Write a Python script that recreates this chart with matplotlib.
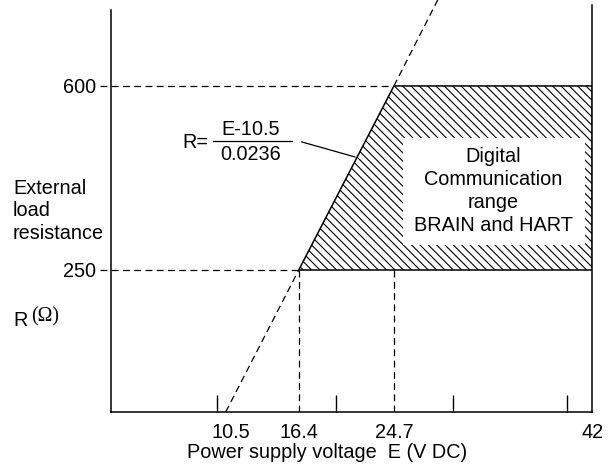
import matplotlib
matplotlib.use("Agg")
import matplotlib.pyplot as plt
from matplotlib.patches import Polygon, Rectangle

plt.rcParams['font.family'] = ['Liberation Sans', 'DejaVu Sans']
plt.rcParams['hatch.linewidth'] = 0.8

FS = 14.3

# values
e_zero = 10.5          # E where R = 0
k = 0.0236             # R = (E - e_zero) / k
e_min, e_max = 16.4, 24.7
e_top = 42
r_min, r_max = 250, 600
x_tick_vals = [10.5, 16.4, 24.7, 42]
x_tick_labels = ['10.5', '16.4', '24.7', '42']
minor_ticks = [9.24, 19.62, 29.87, 39.76]
y_tick_vals = [250, 600]
r_line_ends = [-20, 764]

fig = plt.figure(figsize=(6.13, 4.68), dpi=100)
ax = fig.add_axes([0.1806, 0.1197, 0.7856, 0.8697])
ax.set_xlim(0, 42)
ax.set_ylim(-20, 754)

ax.spines['top'].set_visible(False)
for s in ['left', 'right', 'bottom']:
    ax.spines[s].set_linewidth(1.1)
ax.spines['left'].set_bounds(-20, 744)

dash = dict(color='black', lw=0.9, linestyle=(0, (5.5, 3.5)))

# hatched communication range
poly = Polygon([(e_min, r_min), (e_max, r_max), (e_top, r_max), (e_top, r_min)],
               closed=True, facecolor='white', edgecolor='black', hatch='\\\\\\\\',
               lw=1.1, zorder=2)
ax.add_patch(poly)
ax.add_patch(Rectangle((25.5, 297.5), 41.35 - 25.5, 501 - 297.5,
                       facecolor='white', edgecolor='none', zorder=3))
ax.text(33.4, 400, 'Digital\nCommunication\nrange\nBRAIN and HART',
        ha='center', va='center', fontsize=FS, linespacing=1.27, zorder=4)

# guide lines
ax.plot([-0.9, e_max], [r_max, r_max], clip_on=False, zorder=1, **dash)
ax.plot([-0.9, e_min], [r_min, r_min], clip_on=False, zorder=1, **dash)
ax.plot([e_min, e_min], [-20, r_min], zorder=1, **dash)
ax.plot([e_max, e_max], [-20, r_max], zorder=1, **dash)

# load line R = (E - 10.5) / 0.0236, dashed outside the range
e_ends = [e_zero + r * k for r in r_line_ends]
ax.plot([e_ends[0], e_min], [r_line_ends[0], r_min], clip_on=False, zorder=1, **dash)
ax.plot([e_max, e_ends[1]], [r_max, r_line_ends[1]], clip_on=False, zorder=1, **dash)

# ticks
ax.set_xticks(x_tick_vals, x_tick_labels)
ax.set_xticks(minor_ticks, minor=True)
ax.tick_params(axis='x', which='major', length=0, pad=8, labelsize=FS)
ax.tick_params(axis='x', which='minor', direction='in', length=12, width=1.0)
ax.set_yticks(y_tick_vals, [str(v) for v in y_tick_vals])
ax.tick_params(axis='y', which='major', length=0, pad=10.8, labelsize=FS)
ax.tick_params(axis='y', which='minor', left=False)

# formula
ax.text(7.35, 493, 'R=', ha='center', va='center', fontsize=FS)
ax.text(12.23, 517, 'E-10.5', ha='center', va='center', fontsize=FS)
ax.text(12.23, 469, '0.0236', ha='center', va='center', fontsize=FS)
ax.plot([8.93, 15.8], [495, 495], color='black', lw=0.9)
ax.plot([16.67, 21.3], [493.5, 465], color='black', lw=0.9)

# axis titles
fig.text(13 / 613, 1 - 211 / 468, 'External\nload\nresistance', ha='left',
         va='center', fontsize=FS, linespacing=1.26)
fig.text(13 / 613, 1 - 321 / 468, 'R', ha='left', va='center', fontsize=FS)
fig.text(31 / 613, 1 - 317 / 468, '(Ω)', ha='left', va='center', fontsize=FS,
         family=['Liberation Serif', 'DejaVu Serif'])
fig.text(327 / 613, 1 - 453 / 468, 'Power supply voltage  E (V DC)',
         ha='center', va='center', fontsize=FS)

fig.savefig('out.png', dpi=100)
